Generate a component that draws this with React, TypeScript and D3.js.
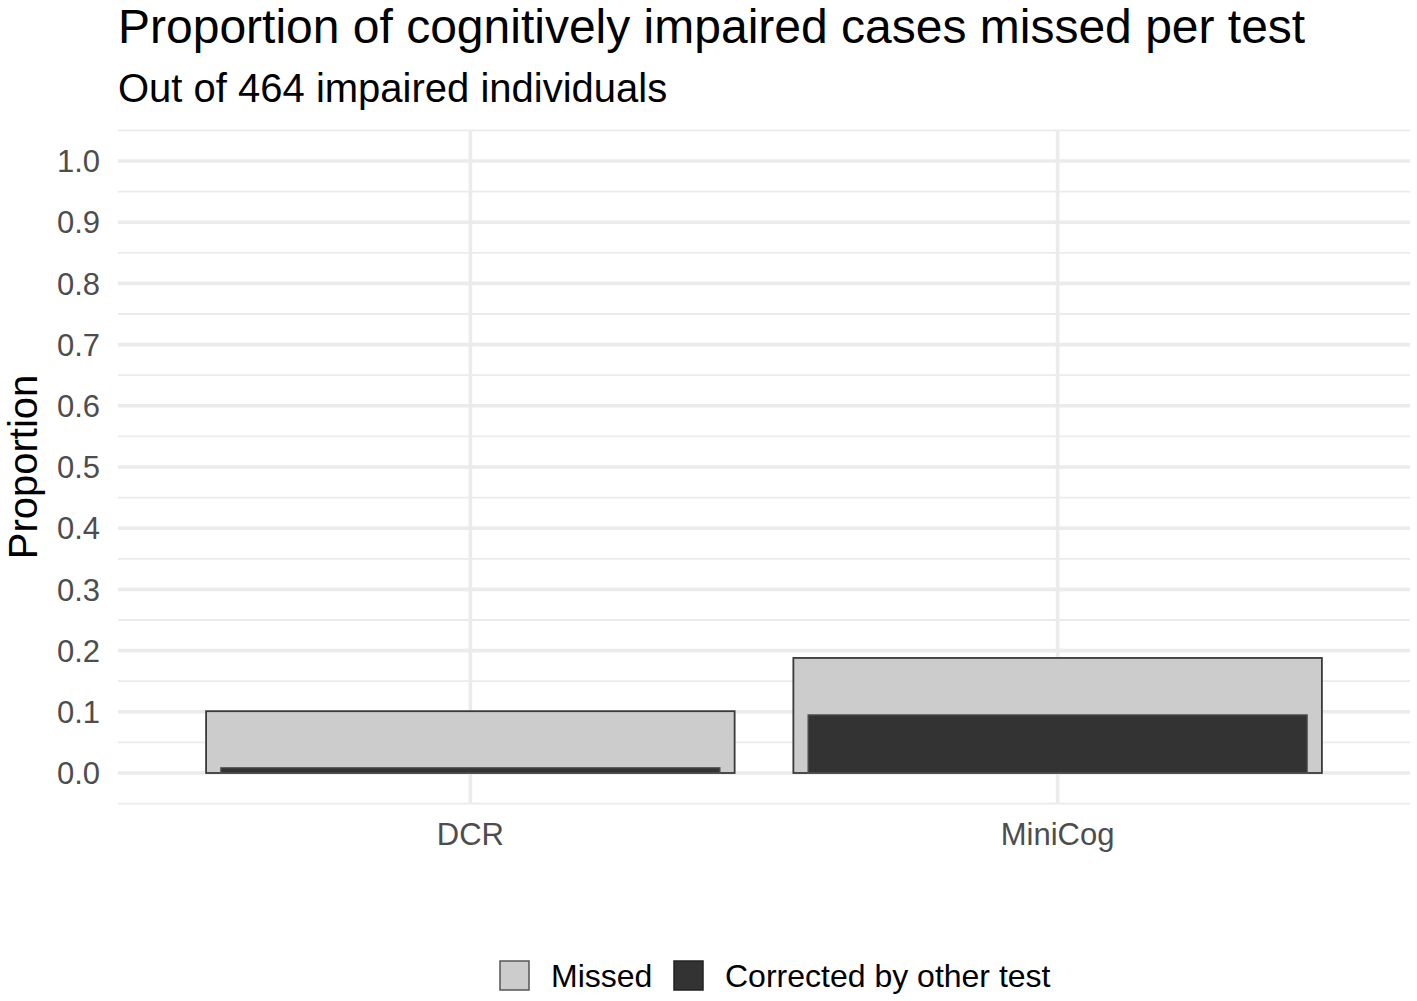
import React, { useEffect } from 'react';
import * as d3 from 'd3';

// tests on the x axis
const tests: string[] = ['DCR', 'MiniCog'];
// proportion of the 464 impaired individuals missed by each test
const missed: number[] = [0.101, 0.188];
// of those, proportion picked up by the other test
const corrected: number[] = [0.0086, 0.095];
const yTicks: number[] = [0, 0.1, 0.2, 0.3, 0.4, 0.5, 0.6, 0.7, 0.8, 0.9, 1.0];
const yMinor: number[] = [-0.05, 0.05, 0.15, 0.25, 0.35, 0.45, 0.55, 0.65, 0.75, 0.85, 0.95, 1.05];
const legendItems = [
    { label: 'Missed', fill: '#cccccc', stroke: '#555555' },
    { label: 'Corrected by other test', fill: '#333333', stroke: '#222222' },
];

const width = 1417;
const height = 1001;
const panel = { left: 118, right: 1410, top: 130.4, bottom: 803.6 };
const font = '"Liberation Sans", Arial, Helvetica, sans-serif';

const App: React.FC = () => {
    useEffect(() => {
        document.body.style.margin = '0';
    }, []);

    // y: 0..1 with ggplot's 5% expansion
    const yScale = d3.scaleLinear()
        .domain([-0.05, 1.05])
        .range([panel.bottom, panel.top]);

    // discrete x: positions 1..n, expanded by 0.6 each side
    const xScale = d3.scaleLinear()
        .domain([0.4, tests.length + 0.6])
        .range([panel.left, panel.right]);

    const unit = xScale(1) - xScale(0);
    const missedWidth = 0.9 * unit;
    const correctedWidth = 0.85 * unit;

    return (
        <svg width={width} height={height} style={{ display: 'block', background: '#fff' }} fontFamily={font}>
            {/* minor grid */}
            {yMinor.map((t) => (
                <line key={'mi' + t} x1={panel.left} x2={panel.right} y1={yScale(t)} y2={yScale(t)}
                    stroke="#ebebeb" strokeWidth={1.8} />
            ))}
            {/* major grid */}
            {yTicks.map((t) => (
                <line key={'ma' + t} x1={panel.left} x2={panel.right} y1={yScale(t)} y2={yScale(t)}
                    stroke="#ebebeb" strokeWidth={3.6} />
            ))}
            {tests.map((t, i) => (
                <line key={'v' + t} x1={xScale(i + 1)} x2={xScale(i + 1)} y1={panel.top} y2={panel.bottom}
                    stroke="#ebebeb" strokeWidth={3.6} />
            ))}

            {/* bars */}
            {tests.map((t, i) => (
                <g key={'b' + t}>
                    <rect x={xScale(i + 1) - missedWidth / 2} y={yScale(missed[i])}
                        width={missedWidth} height={yScale(0) - yScale(missed[i])}
                        fill="#cccccc" stroke="#3a3a3a" strokeWidth={1.8} />
                    <rect x={xScale(i + 1) - correctedWidth / 2} y={yScale(corrected[i])}
                        width={correctedWidth} height={yScale(0) - yScale(corrected[i])}
                        fill="#333333" stroke="#555555" strokeWidth={1.2} />
                </g>
            ))}

            {/* y tick labels */}
            {yTicks.map((t) => (
                <text key={'yt' + t} x={100} y={yScale(t)} dy="0.36em" textAnchor="end"
                    fontSize={31} fill="#4d4d4d">{d3.format('.1f')(t)}</text>
            ))}

            {/* x tick labels */}
            {tests.map((t, i) => (
                <text key={'xt' + t} x={xScale(i + 1)} y={845} textAnchor="middle"
                    fontSize={31} fill="#4d4d4d">{t}</text>
            ))}

            {/* y axis title */}
            <text transform={`translate(37,${(panel.top + panel.bottom) / 2}) rotate(-90)`}
                textAnchor="middle" fontSize={40} fill="#000">Proportion</text>

            {/* titles */}
            <text x={118} y={43} fontSize={48} fill="#000">Proportion of cognitively impaired cases missed per test</text>
            <text x={118} y={102} fontSize={40} fill="#000">Out of 464 impaired individuals</text>

            {/* legend */}
            {legendItems.map((d, i) => {
                const kx = i === 0 ? 500 : 674;
                return (
                    <g key={'lg' + d.label}>
                        <rect x={kx} y={961} width={29} height={29} fill={d.fill} stroke={d.stroke} strokeWidth={1.5} />
                        <text x={kx + 51} y={975.5} dy="0.36em" fontSize={32} fill="#000">{d.label}</text>
                    </g>
                );
            })}
        </svg>
    );
};

export default App;
